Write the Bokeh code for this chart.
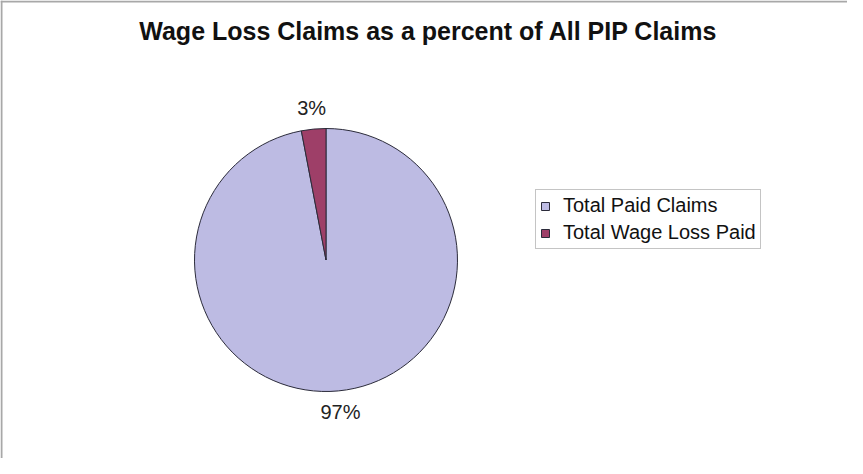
import numpy as np
from bokeh.plotting import figure
from bokeh.models import ColumnDataSource, Range1d, Legend, LegendItem, Label, Span
from bokeh.core.properties import value
from bokeh.embed import file_html
from bokeh.resources import INLINE

# ---- data ----
title_text = "Wage Loss Claims as a percent of All PIP Claims"
categories = ["Total Paid Claims", "Total Wage Loss Paid"]
percents = [97, 3]
colors = ["#BDBBE3", "#9E3F68"]

# ---- layout ----
W, H = 847, 458
cx, cy, rad = 325.5, 198.5, 131.5
label_r = 153
FONT = "Liberation Sans"

frac = np.array(percents, dtype=float) / sum(percents)
cum = np.concatenate([[0.0], np.cumsum(frac)])
start = np.pi / 2 - 2 * np.pi * cum[:-1]
end = np.pi / 2 - 2 * np.pi * cum[1:]
mid = (start + end) / 2

src = ColumnDataSource(dict(
    x=[cx] * len(categories), y=[cy] * len(categories),
    start=list(start), end=list(end), color=colors, cat=categories,
))
lab = ColumnDataSource(dict(
    x=list(cx + label_r * np.cos(mid)),
    y=list(cy + label_r * np.sin(mid)),
    text=[f"{p}%" for p in percents],
))

p = figure(width=W, height=H, output_backend="svg", toolbar_location=None,
           x_range=Range1d(0, W), y_range=Range1d(0, H),
           x_axis_location=None, y_axis_location=None,
           min_border=0, min_border_left=0, min_border_right=0,
           min_border_top=0, min_border_bottom=0)
p.grid.visible = False
p.outline_line_color = None
p.background_fill_color = "white"
p.border_fill_color = "white"

wr = p.wedge(x="x", y="y", radius=rad, start_angle="start", end_angle="end",
             direction="clock", fill_color="color", line_color="#2B2B3A",
             line_width=1, source=src)

p.text(x="x", y="y", text="text", source=lab, text_align="center",
       text_baseline="middle", text_font=value(FONT), text_font_size="20px",
       text_color="#222222")

p.add_layout(Label(x=436 - 8, y=H - 30, x_units="screen", y_units="screen",
                   text=title_text, text_align="center", text_baseline="middle",
                   text_font=FONT, text_font_size="25px", text_font_style="bold",
                   text_color="#111111"))

# chart-area border (top and left visible in the reference)
p.add_layout(Span(location=1, dimension="height", line_color="#A8A8A8", line_width=2))
p.add_layout(Span(location=H - 1, dimension="width", line_color="#A8A8A8", line_width=2))

legend = Legend(items=[LegendItem(label=c, renderers=[wr], index=i)
                       for i, c in enumerate(categories)],
                location=(535, 209), orientation="vertical",
                label_text_font=FONT, label_text_font_size="20px",
                label_text_color="#111111",
                glyph_width=10, glyph_height=10, label_standoff=13,
                padding=4, spacing=4, margin=0,
                border_line_color="#8A8A8A", border_line_width=1,
                background_fill_color="white", background_fill_alpha=1)
p.add_layout(legend)

open("out.html", "w").write(file_html(p, INLINE))
